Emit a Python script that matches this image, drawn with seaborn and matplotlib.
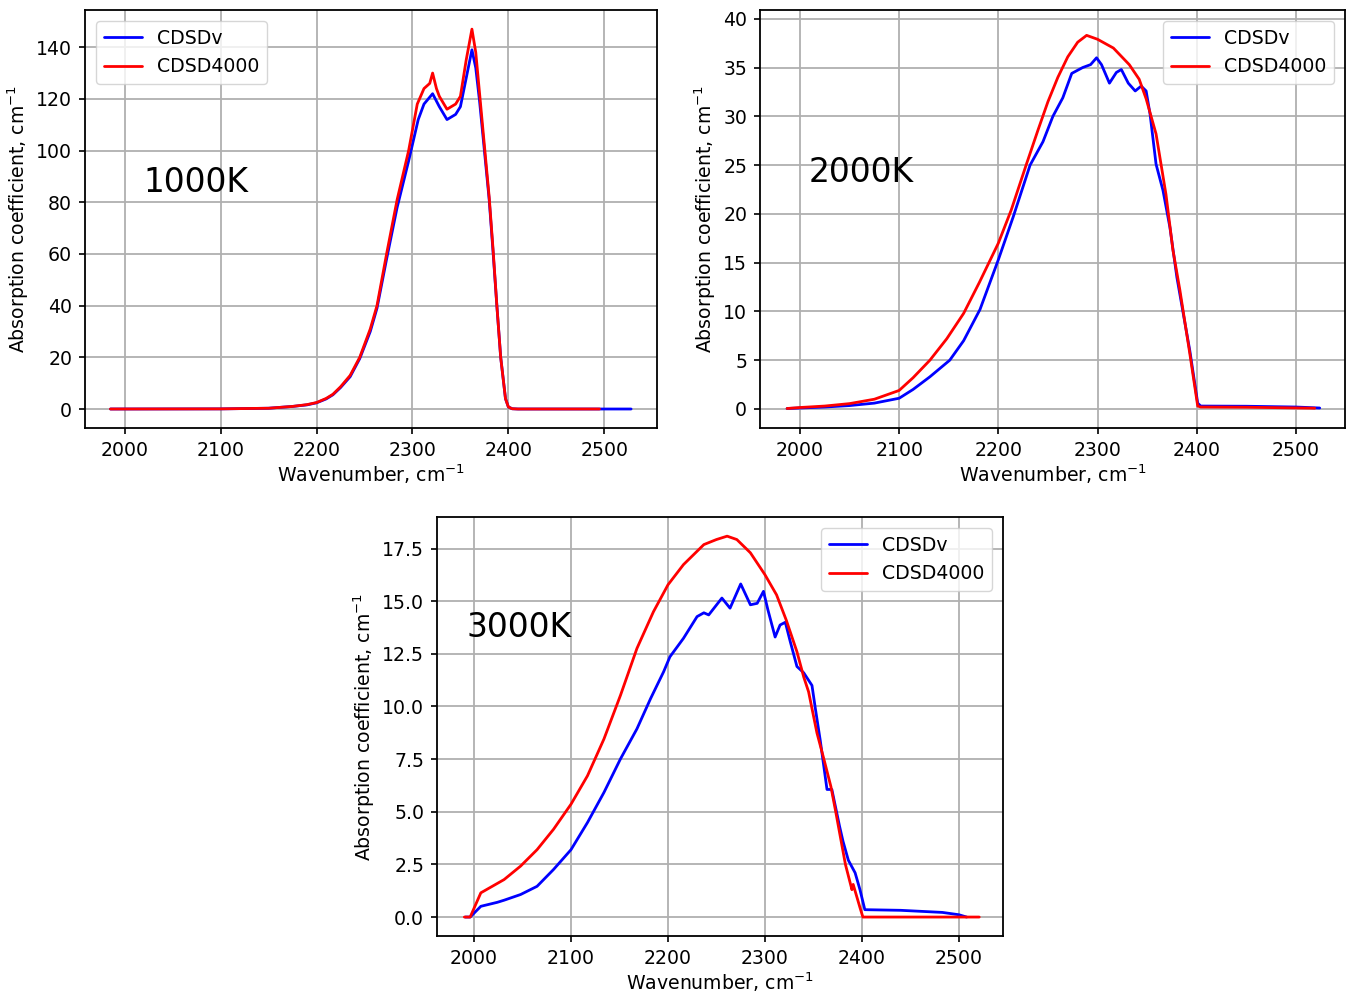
import matplotlib
matplotlib.use("Agg")
import matplotlib.pyplot as plt
import seaborn as sns
import pandas as pd

# ---- 1000 K ----
wn_1000_v = [1985, 2100, 2150, 2175, 2190, 2200, 2210, 2217, 2225, 2235, 2245, 2256,
             2263, 2273, 2284, 2296, 2306, 2312, 2321, 2328, 2336, 2345, 2350, 2356,
             2362, 2366, 2370, 2375, 2380, 2384, 2388, 2392, 2397, 2400, 2404, 2410, 2528]
k_1000_v = [0, 0.05, 0.3, 1.0, 1.6, 2.4, 3.9, 5.5, 8.3, 12.5, 19.5, 30,
            39, 58, 78, 96, 112, 118, 122, 117, 112, 114, 117, 128,
            139, 132, 119, 100, 81, 61, 40, 20, 4, 0.8, 0.1, 0, 0]
wn_1000_4 = [1985, 2100, 2150, 2175, 2190, 2200, 2210, 2217, 2225, 2235, 2245, 2256,
             2263, 2273, 2284, 2296, 2305, 2312, 2318, 2321, 2325, 2328, 2336, 2345,
             2350, 2356, 2362, 2366, 2370, 2375, 2380, 2384, 2388, 2392, 2397, 2400,
             2404, 2410, 2495]
k_1000_4 = [0, 0.05, 0.3, 1.0, 1.7, 2.5, 4.1, 5.7, 8.6, 13, 20, 31,
            40, 60, 81, 100, 118, 124, 126, 130, 124, 121, 116, 118,
            121, 135, 147, 138, 122, 102, 82, 62, 40, 20, 4, 0.8,
            0.1, 0, 0]

# ---- 2000 K ----
wn_2000_v = [1987, 2000, 2025, 2050, 2075, 2100, 2114, 2131, 2151, 2165, 2181.5, 2200,
             2215, 2232, 2245, 2255, 2265, 2274, 2285, 2293, 2299, 2304, 2312, 2319,
             2324, 2331, 2338, 2344, 2349, 2353, 2359, 2366, 2373, 2380, 2393, 2401,
             2404, 2450, 2500, 2524]
k_2000_v = [0.05, 0.1, 0.2, 0.35, 0.6, 1.1, 2.0, 3.3, 5.0, 7.0, 10.2, 15.3,
            19.7, 25.0, 27.4, 30.0, 31.9, 34.4, 35.0, 35.3, 36.0, 35.3, 33.4, 34.5,
            34.8, 33.4, 32.6, 33.1, 32.6, 30.2, 25.1, 22.4, 18.6, 13.5, 6.0, 0.6,
            0.3, 0.28, 0.2, 0.1]
wn_2000_4 = [1987, 2000, 2025, 2050, 2075, 2100, 2114, 2131, 2148, 2165, 2181, 2200,
             2213, 2228, 2240, 2250, 2260, 2270, 2280, 2289, 2300, 2316, 2332, 2342,
             2349, 2359, 2369, 2376, 2383, 2393, 2401, 2404, 2450, 2519]
k_2000_4 = [0.05, 0.15, 0.3, 0.55, 1.0, 1.9, 3.2, 5.0, 7.2, 9.8, 13.0, 17.0,
            20.4, 25.0, 28.6, 31.5, 34.0, 36.1, 37.6, 38.3, 37.9, 37.0, 35.3, 33.8,
            31.8, 28.2, 22.0, 16.3, 12.2, 5.7, 0.3, 0.2, 0.18, 0.08]

# ---- 3000 K ----
wn_3000_v = [1991, 1996, 2007, 2024, 2031, 2048, 2065, 2082, 2100, 2117, 2134, 2151,
             2168, 2182, 2195.5, 2202, 2216, 2230, 2237, 2242, 2255.6, 2264, 2275, 2285,
             2292, 2298.5, 2303, 2310.5, 2315.6, 2321, 2326, 2333, 2340, 2348.5, 2352, 2357,
             2364, 2369, 2377, 2380.5, 2386, 2393, 2398, 2403, 2440, 2483, 2500, 2508]
k_3000_v = [0, 0, 0.51, 0.7, 0.8, 1.07, 1.46, 2.26, 3.2, 4.49, 5.92, 7.51,
            8.94, 10.37, 11.65, 12.36, 13.24, 14.27, 14.45, 14.35, 15.15, 14.67, 15.82, 14.83,
            14.9, 15.47, 14.6, 13.3, 13.87, 14.0, 13.1, 11.9, 11.6, 11.0, 9.9, 8.4,
            6.06, 6.06, 4.3, 3.6, 2.7, 2.1, 1.3, 0.35, 0.32, 0.22, 0.11, 0]
wn_3000_4 = [1990, 1996, 2007, 2031, 2048, 2065, 2082, 2100, 2117, 2134, 2151, 2168,
             2185, 2200, 2216, 2237, 2250, 2261, 2271, 2285, 2300, 2312, 2322, 2333,
             2340, 2345, 2353.6, 2360.8, 2368, 2373, 2383, 2389.7, 2391, 2398, 2401, 2521]
k_3000_4 = [0, 0, 1.15, 1.78, 2.42, 3.2, 4.17, 5.36, 6.71, 8.46, 10.53, 12.76,
            14.5, 15.78, 16.74, 17.69, 17.93, 18.09, 17.93, 17.3, 16.26, 15.3, 14.1, 12.6,
            11.4, 10.7, 8.75, 7.5, 6.2, 5.0, 2.5, 1.3, 1.55, 0.45, 0, 0]

series_names = ["CDSDv", "CDSD4000"]
temperature_labels = ["1000K", "2000K", "3000K"]
x_label = "Wavenumber, cm$^{-1}$"
y_label = "Absorption coefficient, cm$^{-1}$"

sns.set_style("ticks")
plt.rcParams.update({
    "font.family": ["DejaVu Sans"],
    "font.size": 13.6,
    "text.color": "black",
    "axes.linewidth": 1.3,
    "xtick.major.size": 4.6,
    "ytick.major.size": 4.6,
    "xtick.major.width": 1.2,
    "ytick.major.width": 1.2,
    "xtick.major.pad": 4.6,
    "ytick.major.pad": 4.6,
    "xtick.color": "black",
    "ytick.color": "black",
    "axes.edgecolor": "black",
    "axes.labelcolor": "black",
    "legend.fontsize": 13.6,
})

fig = plt.figure(figsize=(13.55, 9.93), dpi=100)
axes = [
    fig.add_axes([85 / 1355, 1 - 428 / 993, 572 / 1355, 418 / 993]),
    fig.add_axes([760 / 1355, 1 - 428 / 993, 585 / 1355, 418 / 993]),
    fig.add_axes([437 / 1355, 1 - 936 / 993, 566 / 1355, 419 / 993]),
]

panels = [
    (wn_1000_v, k_1000_v, wn_1000_4, k_1000_4),
    (wn_2000_v, k_2000_v, wn_2000_4, k_2000_4),
    (wn_3000_v, k_3000_v, wn_3000_4, k_3000_4),
]
xlims = [(1958.5, 2555), (1959.7, 2549.5), (1961.8, 2545.5)]
ylims = [(-7.35, 154.4), (-1.95, 40.9), (-0.9, 19.0)]
yticks = [list(range(0, 141, 20)), list(range(0, 41, 5)),
          [0, 2.5, 5.0, 7.5, 10.0, 12.5, 15.0, 17.5]]
text_pos = [(2019, 84), (2009, 23.3), (1992, 13.3)]
legend_loc = ["upper left", "upper right", "upper right"]

for ax, (xv, yv, x4, y4), xl, yl, yt, tp, lab, loc in zip(
        axes, panels, xlims, ylims, yticks, text_pos, temperature_labels, legend_loc):
    dv = pd.DataFrame({"wn": xv, "k": yv})
    d4 = pd.DataFrame({"wn": x4, "k": y4})
    sns.lineplot(data=dv, x="wn", y="k", color="#0000ff", lw=2.0, ax=ax,
                 label=series_names[0], estimator=None, sort=False)
    sns.lineplot(data=d4, x="wn", y="k", color="#ff0000", lw=2.0, ax=ax,
                 label=series_names[1], estimator=None, sort=False)
    ax.set_xlim(*xl)
    ax.set_ylim(*yl)
    ax.set_xticks([2000, 2100, 2200, 2300, 2400, 2500])
    ax.set_yticks(yt)
    if yt[1] == 2.5:
        ax.set_yticklabels([f"{v:.1f}" for v in yt])
    ax.grid(True, color="#b0b0b0", lw=1.3)
    ax.set_axisbelow(True)
    ax.set_xlabel(x_label, labelpad=2)
    ax.set_ylabel(y_label, labelpad=4)
    ax.text(tp[0], tp[1], lab, fontsize=23.7, color="black")
    for s in ax.spines.values():
        s.set_visible(True)
        s.set_color("black")
    leg = ax.legend(loc=loc, frameon=True, fancybox=True, framealpha=0.8,
                    edgecolor="0.8", borderaxespad=0.6)
    for line in leg.get_lines():
        line.set_linewidth(2.0)

fig.savefig("out.png", dpi=100)
